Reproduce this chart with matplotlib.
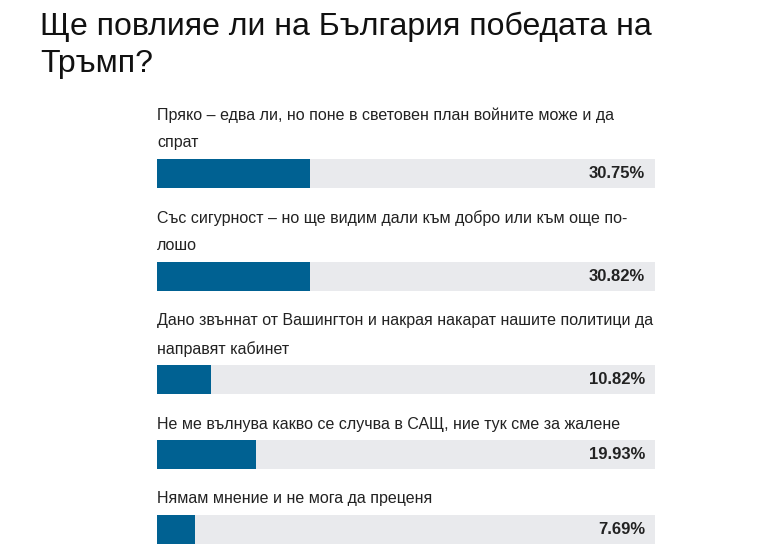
import matplotlib
matplotlib.use("Agg")
import matplotlib.pyplot as plt

# poll data
title = "Ще повлияе ли на България победата на\nТръмп?"
answers = [
    "Пряко – едва ли, но поне в световен план войните може и да\nспрат",
    "Със сигурност – но ще видим дали към добро или към още по-\nлошо",
    "Дано звъннат от Вашингтон и накрая накарат нашите политици да\nнаправят кабинет",
    "Не ме вълнува какво се случва в САЩ, ние тук сме за жалене",
    "Нямам мнение и не мога да преценя",
]
percents = [30.75, 30.82, 10.82, 19.93, 7.69]

plt.rcParams['font.family'] = ['Liberation Sans', 'DejaVu Sans']

W, H = 770, 549
fig = plt.figure(figsize=(W / 100, H / 100), dpi=100)
fig.patch.set_facecolor('white')

# axes: x in percent, y in pixels from top
ax = fig.add_axes([157 / W, 0, 498 / W, 1])
ax.set_xlim(0, 100)
ax.set_ylim(H, 0)
ax.axis('off')

fig.text(40 / W, 1 - 12 / H, title, fontsize=23, va='top', ha='left',
         linespacing=1.3, color='#111111')

line_h = 28
bar_h = 29
y = 115  # first label line centre
for ans, p in zip(answers, percents):
    lines = ans.split("\n")
    for i, ln in enumerate(lines):
        ax.text(0, y + i * line_h, ln, fontsize=11.5, va='center', ha='left',
                color='#222222')
    top = y + (len(lines) - 1) * line_h + 16
    mid = top + bar_h / 2
    ax.barh(mid, 100, height=bar_h, left=0, color='#e9eaed')
    ax.barh(mid, p, height=bar_h, left=0, color='#006192')
    ax.text(98, mid, f"{p:.2f}%", fontsize=12, fontweight='bold',
            va='center', ha='right', color='#222222')
    y = top + bar_h + 30

fig.savefig('out.png', dpi=100, facecolor='white')
